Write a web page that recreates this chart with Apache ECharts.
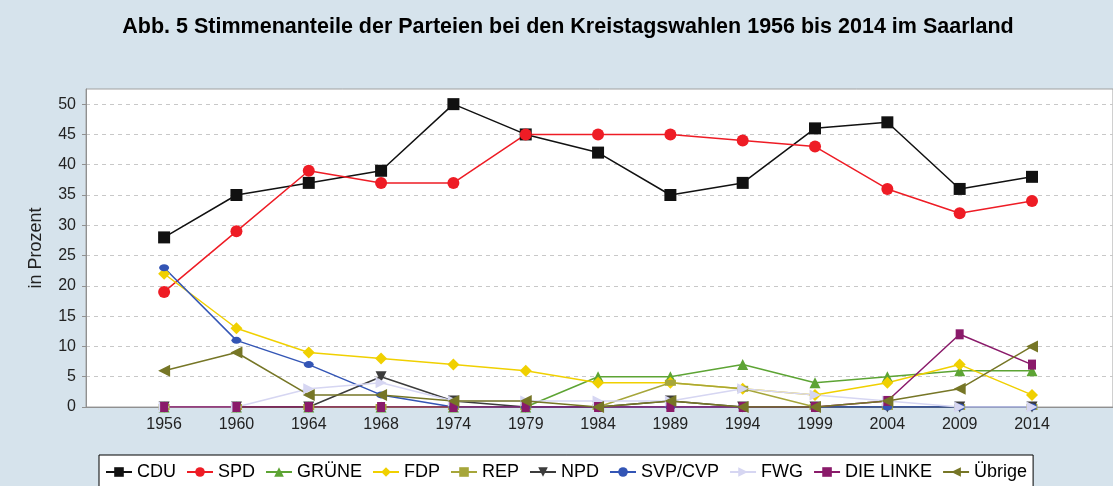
<!DOCTYPE html>
<html>
<head>
<meta charset="utf-8">
<title>Stimmenanteile Kreistagswahlen Saarland</title>
<script src="https://cdn.jsdelivr.net/npm/echarts@6/dist/echarts.min.js"></script>
<style>
  html, body { margin: 0; padding: 0; background: #d6e3ec; }
  #chart_id { width: 1113px; height: 486px; }
</style>
</head>
<body>
<div id="chart_id"></div>
<script>
// Wahljahre (Kategorien)
const years = ['1956', '1960', '1964', '1968', '1974', '1979', '1984', '1989', '1994', '1999', '2004', '2009', '2014'];
const yTicks = [0, 5, 10, 15, 20, 25, 30, 35, 40, 45, 50];

// Stimmenanteile in Prozent
const cdu      = [28, 35, 37, 39, 50, 45, 42, 35, 37, 46, 47, 36, 38];
const spd      = [19, 29, 39, 37, 37, 45, 45, 45, 44, 43, 36, 32, 34];
const gruene   = [0, 0, 0, 0, 0, 0, 5, 5, 7, 4, 5, 6, 6];
const fdp      = [22, 13, 9, 8, 7, 6, 4, 4, 3, 2, 4, 7, 2];
const rep      = [0, 0, 0, 0, 0, 0, 0, 4, 3, 0, 0, 0, 0];
const npd      = [0, 0, 0, 5, 1, 0, 0, 1, 0, 0, 0, 0, 0];
const svp      = [23, 11, 7, 2, 0, 0, 0, 0, 0, 0, 0, 0, 0];
const fwg      = [0, 0, 3, 4, 1, 1, 1, 1, 3, 2, 1, 0, 0];
const linke    = [0, 0, 0, 0, 0, 0, 0, 0, 0, 0, 1, 12, 7];
const uebrige  = [6, 9, 2, 2, 1, 1, 0, 1, 0, 0, 1, 3, 10];

const myChart = echarts.init(document.getElementById('chart_id'));

// jede Partei: Name, Werte, Farbe, Symbol
function makeSeries(name, values, color, symbol, size, rotate) {
  return {
    name: name,
    type: 'line',
    data: values.map((v, i) => [i, v]),
    color: color,
    symbol: symbol,
    symbolSize: size,
    symbolRotate: rotate || 0,
    showAllSymbol: true,
    lineStyle: {
      width: 1.5,
      color: color,
    },
    itemStyle: {
      color: color,
    },
    emphasis: { disabled: true },
  };
}

const option = {
  backgroundColor: '#d6e3ec',
  animation: false,
  textStyle: {
    fontFamily: 'Liberation Sans, Arial, sans-serif',
  },
  title: {
    text: 'Abb. 5 Stimmenanteile der Parteien bei den Kreistagswahlen 1956 bis 2014 im Saarland',
    left: 563,
    top: 11,
    textAlign: 'center',
    textStyle: {
      fontSize: 21.5,
      fontWeight: 'bold',
      color: '#000',
    },
  },
  grid: {
    left: 86,
    right: -2,
    top: 89,
    bottom: 79,
    show: true,
    backgroundColor: '#fff',
    borderColor: '#a0a0a0',
    borderWidth: 1,
  },
  legend: {
    left: 99,
    top: 455,
    padding: [8, 6, 8, 6],
    itemGap: 10,
    itemWidth: 26,
    itemHeight: 12,
    backgroundColor: '#fff',
    borderColor: '#000',
    borderWidth: 1,
    borderRadius: 0,
    textStyle: {
      fontSize: 18,
      color: '#000',
    },
    data: ['CDU', 'SPD', 'GRÜNE', 'FDP', 'REP', 'NPD', 'SVP/CVP', 'FWG', 'DIE LINKE', 'Übrige'],
  },
  xAxis: {
    type: 'value',
    min: -1.08,
    max: 13.12,
    axisLine: {
      onZero: false,
      lineStyle: { color: '#909090' },
    },
    axisTick: { show: false },
    splitLine: { show: false },
    axisLabel: {
      customValues: years.map((y, i) => i),
      formatter: (value) => years[value] || '',
      fontSize: 16,
      color: '#222',
      margin: 10,
    },
  },
  yAxis: {
    type: 'value',
    min: 0,
    max: 52.5,
    name: 'in Prozent',
    nameLocation: 'middle',
    nameGap: 41,
    nameTextStyle: {
      fontSize: 18,
      color: '#222',
    },
    axisLine: {
      show: true,
      onZero: false,
      lineStyle: { color: '#909090' },
    },
    axisTick: {
      show: true,
      length: 4,
      customValues: yTicks,
      lineStyle: { color: '#909090' },
    },
    axisLabel: {
      customValues: yTicks,
      fontSize: 16,
      color: '#222',
      margin: 10,
    },
    splitLine: {
      lineStyle: {
        color: '#c8c8c8',
        type: [4, 4],
      },
    },
  },
  series: [
    makeSeries('CDU', cdu, '#111111', 'rect', 12),
    makeSeries('SPD', spd, '#ee1c25', 'circle', 12),
    makeSeries('GRÜNE', gruene, '#5da434', 'triangle', 11),
    makeSeries('FDP', fdp, '#f0d000', 'diamond', 12),
    makeSeries('REP', rep, '#a6a63a', 'rect', [11, 6]),
    makeSeries('NPD', npd, '#3c3c3c', 'triangle', 11, 180),
    makeSeries('SVP/CVP', svp, '#3355b5', 'circle', [10, 7]),
    makeSeries('FWG', fwg, '#d6d6f2', 'triangle', 11, -90),
    makeSeries('DIE LINKE', linke, '#8a1a6a', 'rect', [8, 10]),
    makeSeries('Übrige', uebrige, '#767626', 'triangle', 12, 90),
  ],
};
myChart.clear();
myChart.setOption(option);
window.onresize = myChart.resize;
</script>
</body>
</html>
